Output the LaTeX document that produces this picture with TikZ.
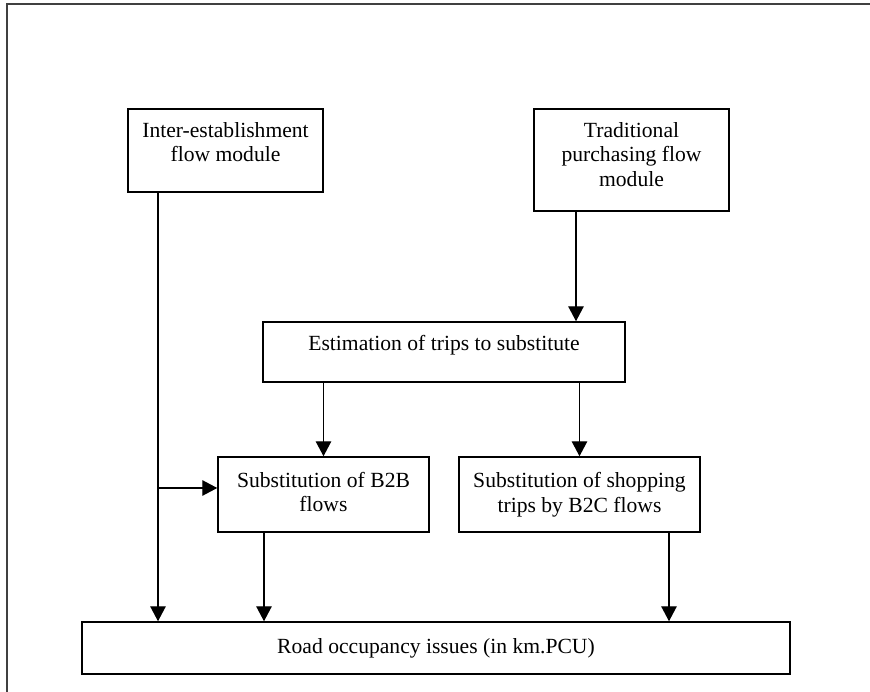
\documentclass[tikz,border=0pt]{standalone}
\usepackage{fontspec}
\setmainfont{Liberation Serif}
\usetikzlibrary{positioning,arrows.meta}

\newcommand{\lowpad}[1]{\rule[-#1]{0pt}{#1}}

\begin{document}
\begin{tikzpicture}
[x=0.02cm,y=-0.02cm,
 box/.style={draw,rectangle,line width=0.85pt,align=center,inner sep=0pt,
   font=\fontsize{12.3}{14}\selectfont},
 arr/.style={line width=0.8pt,-{Triangle[width=0.31cm,length=0.3cm]}}]
\useasboundingbox (0,0) rectangle (870,692);
% frame of the page
\draw[line width=1.1pt,black!75] (7,692) -- (7,4) -- (870,4);
\node[box,minimum width=195*0.02cm,minimum height=83*0.02cm](inter) at (225.5,150.5)
  {Inter-establishment\\flow module\lowpad{9.8pt}};
\node[box,minimum width=195*0.02cm,minimum height=102*0.02cm](trad) at (631.5,160)
  {Traditional\\purchasing flow\\module\lowpad{6.6pt}};
\node[box,minimum width=362*0.02cm,minimum height=60*0.02cm](est) at (444,352)
  {Estimation of trips to substitute\lowpad{10.7pt}};
\node[box,minimum width=211*0.02cm,minimum height=75*0.02cm](btob) at (323.5,494.5)
  {Substitution of B2B\\flows\lowpad{3pt}};
\node[box,minimum width=241*0.02cm,minimum height=75*0.02cm](btoc) at (579.5,494.5)
  {Substitution of shopping\\trips by B2C flows};
\node[box,minimum width=708*0.02cm,minimum height=52*0.02cm](road) at (436,648)
  {Road occupancy issues (in km.PCU)};
\coordinate (split) at (158,488);
\draw[arr] (inter.south -| split) -- (road.north -| split);
\draw[arr] (split) -- (btob.west |- split);
\draw[arr] (trad.south -| 576,0) -- (est.north -| 576,0);
\draw[arr] (est.south -| btob) -- (btob);
\draw[arr] (est.south -| btoc) -- (btoc);
\draw[arr] (btob.south -| 264,0) -- (road.north -| 264,0);
\draw[arr] (btoc.south -| 669,0) -- (road.north -| 669,0);
\end{tikzpicture}
\end{document}
